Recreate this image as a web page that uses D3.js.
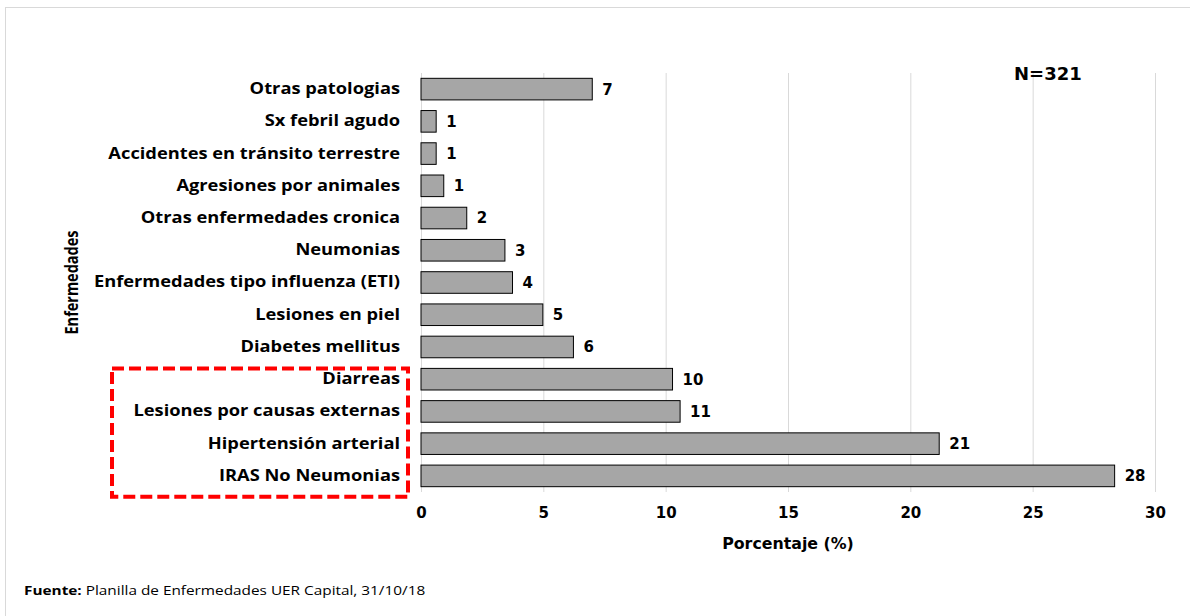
<!DOCTYPE html>
<html>
<head>
<meta charset="utf-8">
<script src="https://cdn.jsdelivr.net/npm/d3@7"></script>
<style>
  body { margin: 0; background: #fff; }
  svg { display: block; }
</style>
</head>
<body>
<div id="chart"></div>
<script>
// categories, top to bottom as drawn
var categories = [
  "Otras patologias",
  "Sx febril agudo",
  "Accidentes en tránsito terrestre",
  "Agresiones por animales",
  "Otras enfermedades cronica",
  "Neumonias",
  "Enfermedades tipo influenza (ETI)",
  "Lesiones en piel",
  "Diabetes mellitus",
  "Diarreas",
  "Lesiones por causas externas",
  "Hipertensión arterial",
  "IRAS No Neumonias"
];
// porcentaje (%)
var values = [7.0, 0.62, 0.62, 0.93, 1.87, 3.43, 3.74, 4.98, 6.23, 10.28, 10.59, 21.18, 28.35];
var xTicks = [0, 5, 10, 15, 20, 25, 30];
var highlighted = ["Diarreas", "Lesiones por causas externas", "Hipertensión arterial", "IRAS No Neumonias"];

var W = 1190, H = 616;
var plot = {left: 421, right: 1155, top: 73, bottom: 492};
var stretch = 1.18; // the labels in the picture are drawn wide

var svg = d3.select("#chart").append("svg")
  .attr("width", W)
  .attr("height", H);

// outer frame (runs past the right/bottom edge of the window)
svg.append("rect")
  .attr("x", 5.5).attr("y", 7.5)
  .attr("width", W + 20).attr("height", H + 20)
  .attr("fill", "none")
  .attr("stroke", "#d9d9d9");

var x = d3.scaleLinear()
  .domain([0, 30])
  .range([plot.left, plot.right]);

var y = d3.scaleBand()
  .domain(categories)
  .range([plot.top, plot.bottom])
  .paddingInner(0.33)
  .paddingOuter(0.165);

// vertical grid lines
svg.append("g")
  .attr("transform", "translate(0," + plot.bottom + ")")
  .call(d3.axisBottom(x).tickValues(xTicks).tickSize(-(plot.bottom - plot.top)).tickFormat(""))
  .call(function(g) { g.select(".domain").remove(); })
  .selectAll("line")
  .attr("stroke", "#d9d9d9");

// x tick labels
svg.append("g")
  .attr("transform", "translate(0," + (plot.bottom + 15) + ")")
  .call(d3.axisBottom(x).tickValues(xTicks).tickSize(0).tickPadding(0))
  .call(function(g) { g.select(".domain").remove(); })
  .selectAll("text")
  .attr("font-family", "DejaVu Sans")
  .attr("font-weight", "bold")
  .attr("font-size", "15px")
  .attr("fill", "#000");

// category labels
svg.append("g")
  .attr("transform", "translate(" + plot.left + ",0)")
  .call(d3.axisLeft(y).tickSize(0).tickPadding(21))
  .call(function(g) { g.select(".domain").remove(); })
  .selectAll("text")
  .attr("x", -21 / stretch)
  .attr("transform", "scale(" + stretch + ",1)")
  .attr("font-family", "Open Sans")
  .attr("font-weight", "bold")
  .attr("font-size", "15.5px")
  .attr("fill", "#000");

// bars
svg.append("g")
  .selectAll("rect")
  .data(values)
  .enter().append("rect")
  .attr("x", x(0))
  .attr("y", function(d, i) { return y(categories[i]); })
  .attr("width", function(d) { return x(d) - x(0); })
  .attr("height", y.bandwidth())
  .attr("fill", "#a6a6a6")
  .attr("stroke", "#000")
  .attr("stroke-width", 1);

// value labels
var fmt = d3.format(".0f");
svg.append("g")
  .selectAll("text")
  .data(values)
  .enter().append("text")
  .attr("x", function(d) { return x(d) + 10; })
  .attr("y", function(d, i) { return y(categories[i]) + y.bandwidth() / 2; })
  .attr("dy", "0.36em")
  .attr("font-family", "DejaVu Sans")
  .attr("font-weight", "bold")
  .attr("font-size", "15px")
  .attr("fill", "#000")
  .text(function(d) { return fmt(d); });

// red dashed box around the main causes
var hiTop = y(highlighted[0]);
var hiBottom = y(highlighted[highlighted.length - 1]) + y.bandwidth() + 10;
svg.append("rect")
  .attr("x", 112)
  .attr("y", hiTop)
  .attr("width", 296)
  .attr("height", hiBottom - hiTop)
  .attr("fill", "none")
  .attr("stroke", "#ff0000")
  .attr("stroke-width", 4)
  .attr("stroke-dasharray", "12,5");

// N
svg.append("text")
  .attr("x", 1014).attr("y", 80)
  .attr("font-family", "DejaVu Sans")
  .attr("font-weight", "bold")
  .attr("font-size", "18px")
  .text("N=321");

// axis titles
svg.append("text")
  .attr("x", (plot.left + plot.right) / 2)
  .attr("y", 549)
  .attr("text-anchor", "middle")
  .attr("font-family", "DejaVu Sans")
  .attr("font-weight", "bold")
  .attr("font-size", "15.8px")
  .text("Porcentaje (%)");

svg.append("text")
  .attr("transform", "translate(78," + ((plot.top + plot.bottom) / 2) + ")rotate(-90)scale(1," + stretch + ")")
  .attr("text-anchor", "middle")
  .attr("font-family", "Open Sans")
  .attr("font-weight", "bold")
  .attr("font-size", "14.5px")
  .text("Enfermedades");

// source note
var src = svg.append("text")
  .attr("transform", "translate(24,595)scale(1.28,1)")
  .attr("font-family", "Open Sans")
  .attr("font-size", "12px")
  .attr("fill", "#000");
src.append("tspan").attr("font-weight", "bold").text("Fuente:");
src.append("tspan").text(" Planilla de Enfermedades UER Capital, 31/10/18");
</script>
</body>
</html>
